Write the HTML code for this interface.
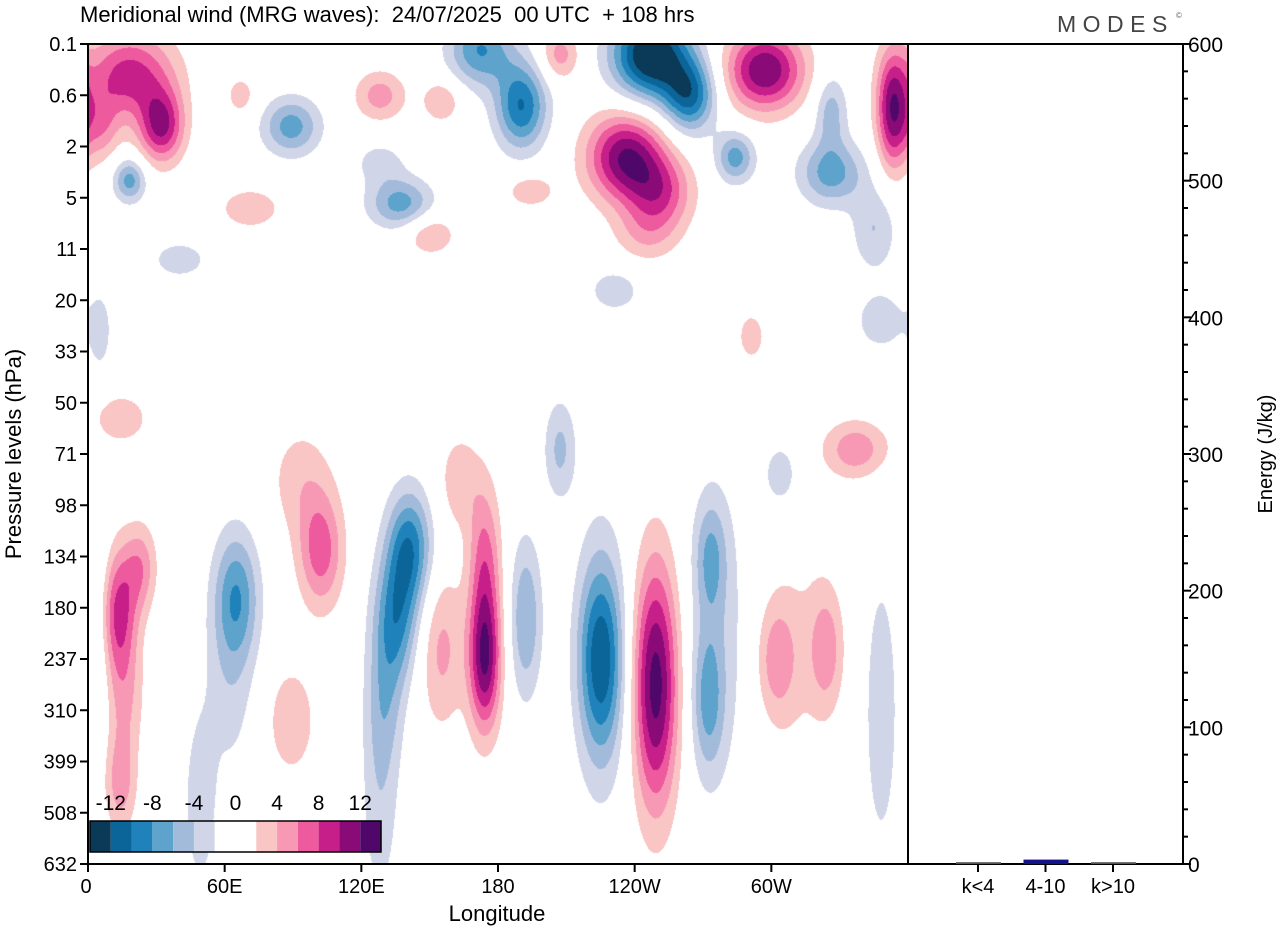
<!DOCTYPE html>
<html><head><meta charset="utf-8"><style>
body{margin:0;background:#fff;width:1280px;height:930px;overflow:hidden;font-family:"Liberation Sans",sans-serif}
#wrap{position:relative;width:1280px;height:930px}
canvas{position:absolute;left:88px;top:44px}
svg{position:absolute;left:0;top:0}
text{white-space:pre}
</style></head><body><div id="wrap">
<canvas id="cv" width="820" height="820"></canvas>
<svg id="sv" width="1280" height="930"></svg>
</div>
<script>
// Pressure levels (category axis, evenly spaced)
const levels=["0.1","0.6","2","5","11","20","33","50","71","98","134","180","237","310","399","508","632"];
const lonTicks=[0,60,120,180,240,300];
const lonTickLabels=["0","60E","120E","180","120W","60W"];
const cbarEdges=[-14,-12,-10,-8,-6,-4,-2,0,2,4,6,8,10,12,14];
const cbarLabels=[-12,-8,-4,0,4,8,12];
const cbarColors=["#0a3a57","#0b6598","#1f82ba","#5ea3cc","#a3bbdb","#d1d5e8","#ffffff","#ffffff","#f9c5c5","#f799b5","#ee5a9e","#c71f8a","#8a0a78","#4f086a"];
const energyCats=["k<4","4-10","k>10"];
const energyVals=[0.6,2.5,0.6];
const energyTicks=[0,100,200,300,400,500,600];
// Wind anomaly centres: longitude (deg E), level index, amplitude (m/s), lon spread (deg), level spread
const blobLon=[13,23,14,16,65,62,102,93,141,135,130,128,174,174,155,192,225,225,249,273,272,277,302,324,313,337,304,207,163,348,89,14,5,49,
 18,32,5,18,89,128,155,137,172,190,247,264,207,236,251,297,284,326,326,345,353,71,150,245,231,40,291,348,5,194,128,67];
const blobLev=[11.1,10.2,14.4,12.8,10.75,12.4,9.9,8.5,9.8,11.2,12.8,14.8,12.0,10,11.8,11.2,12,12,12.5,10,12.8,11.5,12,11.8,11.8,7.9,8.4,7.9,8.5,13,13.2,7.3,11.2,14.8,
 0.6,1.6,1.6,2.65,1.6,1.0,1.1,3.1,0.1,1.2,0.2,1.0,0.2,2.2,2.9,0.5,2.2,2.5,1.3,3.6,1.3,3.2,3.7,3.7,4.8,4.2,5.7,5.4,5.6,2.85,2.3,1.0];
const blobAmp=[9,5,5,3.5,-7,-3,7,3,-9,-8,-4,-3.2,12,6,4.5,-6,-9,-3,13,-5,-5.5,-2.8,4.5,4.5,2,5.5,-3.2,-4.5,3.2,-3.2,3.5,3.2,-3,-3.5,
 9,10,5,-7,-7,5,4,-7,-8,-10,-15,-10,5,12,7,12,-7,-7,-5,-4,11,3.5,4,3.5,-3.5,-3,3,-3.5,-3,3.5,-3,3];
const blobSLon=[6,5,5,6,7,8,7,10,7,7,6,6,5,5,7,5,7,8,7,5,5,10,6,5,12,10,6,5,7,6,8,10,4,5,
 14,7,6,5,9,8,6,10,10,8,12,8,6,12,10,12,6,10,5,7,5,10,8,10,8,10,5,8,4,8,8,5];
const blobSLev=[0.9,0.6,0.7,0.8,0.9,1.4,0.8,0.8,0.8,0.9,1.0,1.5,1.0,1.0,1.1,1.1,1.3,2.0,1.7,0.8,1.0,2.2,0.8,0.8,1.8,0.4,0.5,0.7,0.7,2.2,0.8,0.4,1.5,1.2,
 0.6,0.5,0.5,0.3,0.4,0.35,0.3,0.35,0.5,0.6,0.6,0.5,0.35,0.6,0.5,0.55,0.35,0.45,0.5,0.6,0.8,0.3,0.3,0.4,0.3,0.3,0.4,0.4,0.6,0.25,0.3,0.3];

const PX0=88,PY0=44,PW=820,PH=820;
const xLon=l=>PX0+l/360*PW;
const yLev=i=>PY0+i/(levels.length-1)*PH;
const eX0=908,eX1=1183;
const yE=v=>864-v/600*820;
const xCat=i=>978+i*67.5;

// field
(function(){
 const cv=document.getElementById('cv'),ctx=cv.getContext('2d');
 const img=ctx.createImageData(PW,PH),d=img.data;
 const rgb=cbarColors.map(c=>[parseInt(c.substr(1,2),16),parseInt(c.substr(3,2),16),parseInt(c.substr(5,2),16)]);
 const n=blobLon.length;
 for(let py=0;py<PH;py++){
  const lev=py/PH*(levels.length-1);
  for(let px=0;px<PW;px++){
   const lon=px/PW*360;let v=0;
   for(let k=0;k<n;k++){
    let dl=Math.abs(lon-blobLon[k]);if(dl>180)dl=360-dl;
    const a=dl/blobSLon[k],b=(lev-blobLev[k])/blobSLev[k];
    const q=a*a+b*b;if(q<16)v+=blobAmp[k]*Math.exp(-0.5*q);
   }
   let bi=Math.floor((v+14)/2);bi=Math.max(0,Math.min(13,bi));
   const c=rgb[bi],o=(py*PW+px)*4;
   d[o]=c[0];d[o+1]=c[1];d[o+2]=c[2];d[o+3]=255;
  }
 }
 ctx.putImageData(img,0,0);
})();

const NS="http://www.w3.org/2000/svg",sv=document.getElementById('sv');
function mk(t,a,txt){const e=document.createElementNS(NS,t);for(const k in a)e.setAttribute(k,a[k]);if(txt!==undefined)e.textContent=txt;sv.appendChild(e);return e;}
let e;
e=mk('text',{x:80,y:22,'font-size':22},'Meridional wind (MRG waves):  24/07/2025  00 UTC  + 108 hrs');


e=mk('text',{x:1057,y:32,'font-size':23,fill:'#444','letter-spacing':'6.5'},'MODES');


e=mk('text',{x:1176,y:18,'font-size':8,fill:'#666'},'©');


// frames
e=mk('rect',{x:PX0,y:PY0,width:PW,height:PH,fill:'none',stroke:'#000','stroke-width':2});


e=mk('rect',{x:eX0,y:PY0,width:eX1-eX0,height:PH,fill:'none',stroke:'#000','stroke-width':2});


// y axis
levels.forEach((l,i)=>{const y=yLev(i);
 e=mk('line',{x1:80,x2:PX0,y1:y,y2:y,stroke:'#000','stroke-width':2});
 
 
 e=mk('text',{x:77,y:y+7,'font-size':20,'text-anchor':'end'},l);
 
 
});
e=mk('text',{x:0,y:0,'font-size':22,'text-anchor':'middle',transform:'translate(21,454) rotate(-90)'},'Pressure levels (hPa)');


// x axis
lonTicks.forEach((l,i)=>{const x=xLon(l);
 e=mk('line',{x1:x,x2:x,y1:864,y2:872,stroke:'#000','stroke-width':2});
 
 
 e=mk('text',{x:i==0?x-2:x,y:893,'font-size':20,'text-anchor':'middle'},lonTickLabels[i]);
 
 
});
e=mk('text',{x:497,y:921,'font-size':22,'text-anchor':'middle'},'Longitude');


// colorbar
const cbX=90,cbW=291/14;
cbarColors.forEach((c,i)=>{
 e=mk('rect',{x:cbX+i*cbW,y:821,width:cbW,height:31,fill:c});
 
 
});
e=mk('rect',{x:cbX,y:821,width:291,height:31,fill:'none',stroke:'#000','stroke-width':1.5});


cbarLabels.forEach(v=>{const i=cbarEdges.indexOf(v);
 e=mk('text',{x:cbX+i*cbW,y:810,'font-size':21,'text-anchor':'middle'},String(v));
 
 
});
// energy axis
for(let v=0;v<=600;v+=20){const y=yE(v),maj=v%100==0;
 e=mk('line',{x1:eX1,x2:eX1+(maj?8:5),y1:y,y2:y,stroke:'#000','stroke-width':2});
 
 
}
energyTicks.forEach(v=>{
 e=mk('text',{x:1188,y:yE(v)+8,'font-size':21},String(v));
 
 
});
e=mk('text',{x:0,y:0,'font-size':20,'text-anchor':'middle',transform:'translate(1272,454) rotate(-90)'},'Energy (J/kg)');


energyCats.forEach((c,i)=>{const x=xCat(i);
 const h=864-yE(energyVals[i]);
 e=mk('rect',{x:x-22,y:864-h-1,width:45,height:h+1,fill:i==1?'#14148a':'#555'});
 
 
 e=mk('line',{x1:x,x2:x,y1:864,y2:872,stroke:'#000','stroke-width':2});
 
 
 e=mk('text',{x:x,y:893,'font-size':20,'text-anchor':'middle'},c);
 
 
});
</script></body></html>
